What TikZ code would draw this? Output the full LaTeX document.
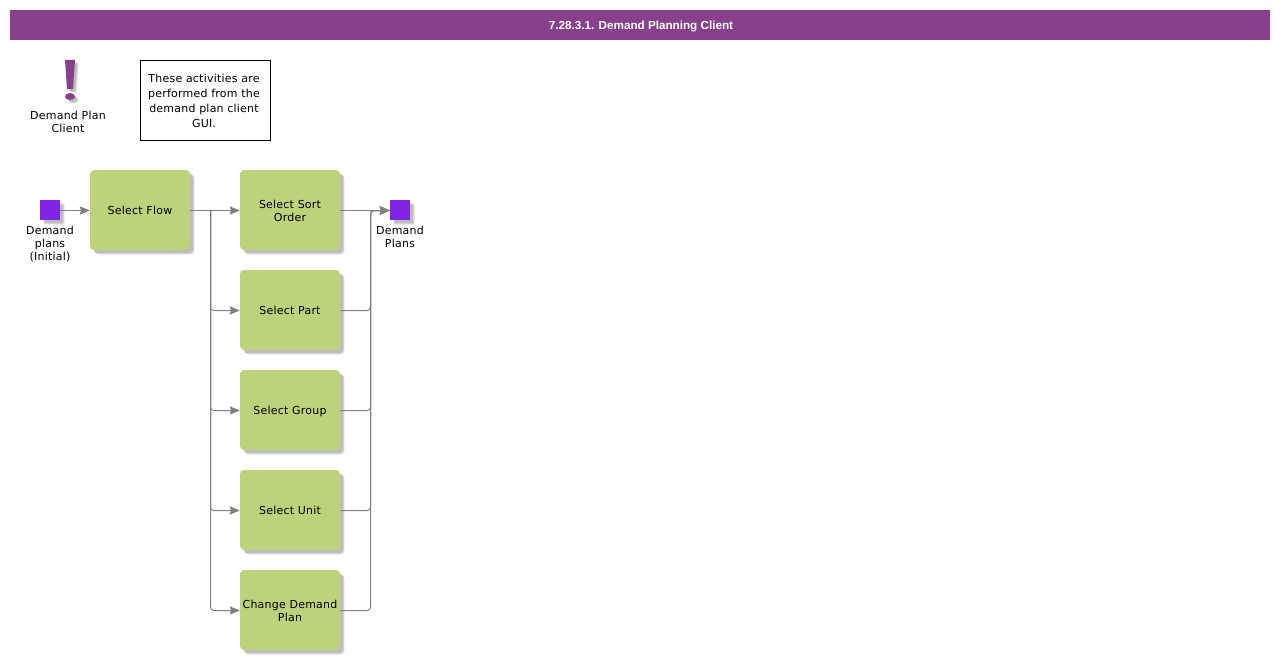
\documentclass[tikz,border=0pt]{standalone}
\usepackage{fontspec}
\setmainfont[LetterSpace=2]{DejaVu Sans}
\newfontfamily\titlefont{Liberation Sans}
\usetikzlibrary{arrows.meta,shadows,positioning}
\definecolor{barpurple}{HTML}{883F8C}
\definecolor{boxgreen}{HTML}{BDD37B}
\definecolor{squarepurple}{HTML}{8224E3}
\definecolor{linegray}{HTML}{808080}
\tikzset{
  softshadow/.style={
    general shadow={shadow xshift=3.4pt,shadow yshift=-3.4pt,fill=black,fill opacity=.07},
    general shadow={shadow xshift=3pt,shadow yshift=-3pt,fill=black,fill opacity=.1},
    general shadow={shadow xshift=2.4pt,shadow yshift=-2.4pt,fill=black,fill opacity=.1}},
  activity/.style={rectangle,rounded corners=3pt,fill=boxgreen,minimum width=75pt,minimum height=60pt,inner sep=0pt,align=center,font=\fontsize{8.25pt}{9.75pt}\selectfont,softshadow},
  flowsq/.style={rectangle,fill=squarepurple,minimum width=15pt,minimum height=15pt,inner sep=0pt,softshadow},
  caption/.style={inner sep=0pt,align=center,font=\fontsize{8.25pt}{9.75pt}\selectfont},
  notebox/.style={rectangle,draw=black,line width=.75pt,fill=white,minimum width=97.5pt,minimum height=60pt,inner sep=0pt},
  notetext/.style={inner sep=0pt,align=center,font=\fontsize{8.25pt}{11.25pt}\selectfont},
  titlebar/.style={rectangle,fill=barpurple,minimum width=945pt,minimum height=22.5pt,inner sep=0pt,text=white},
  titletext/.style={inner sep=0pt,text=white,font=\titlefont\bfseries\fontsize{8.76pt}{11pt}\selectfont},
  conn/.style={draw=linegray,line width=.75pt,rounded corners=2.5pt},
  arrowconn/.style={conn,-{Stealth[length=7.5pt,width=6.2pt,inset=1pt]}},
  dn/.style={yshift=-.375pt}
}
\begin{document}
\begin{tikzpicture}[x=.75pt,y=-.75pt]
\useasboundingbox (0,0) rectangle (1280,660);
\fill[white] (0,0) rectangle (1280,660);

\node[titlebar] (title) at (640,25) {};
\node[titletext] (titlelabel) at (641,26.3) {7.28.3.1. Demand Planning Client};

% exclamation mark
\foreach \s/\o in {2.2/.1,3/.1,3.8/.08}{
  \begin{scope}[shift={(\s,\s)},black,opacity=\o]
    \fill (65,60) -- (75,60) -- (73,89) -- (67,89) -- cycle;
    \fill (70,96.5) ellipse (5 and 3.5);
  \end{scope}
}
\fill[barpurple] (65,60) -- (75,60) -- (73,89) -- (67,89) -- cycle;
\fill[barpurple] (70,96.5) ellipse (5 and 3.5);
\node[caption] (clientlabel) at (68,121.5) {Demand Plan\\Client};

\node[notebox] (note) at (205.5,100.5) {};
\node[notetext] (notelabel) at (204,100.5) {These activities are\\performed from the\\demand plan client\\GUI.};

\node[flowsq] (inn) at (50,210) {};
\node[caption] (inlabel) at (50,244.3) {Demand\\plans\\(Initial)};
\node[flowsq] (outn) at (400,210) {};
\node[caption] (outlabel) at (400,236.5) {Demand\\Plans};

\node[activity] (flow) at (140,210) {Select Flow};
\node[activity] (sort) at (290,210) {};
\node[activity] (part) at (290,310) {Select Part};
\node[activity] (group) at (290,410) {};
\node[activity] (unit) at (290,510) {Select Unit};
\node[activity] (change) at (290,610) {};
\node[caption] (sortlabel) at (290,210.7) {Select Sort\\Order};
\node[caption] (grouplabel) at (290,411) {Select Group};
\node[caption] (changelabel) at (290,610.7) {Change Demand\\Plan};

\coordinate (branch) at (210.5,210.5);
\coordinate (merge) at (370.5,210.5);

\draw[arrowconn] ([dn]inn.east) -- ([dn]flow.west);
\draw[arrowconn] ([dn]flow.east) -- ([dn]sort.west);
\draw[arrowconn] (branch) |- ([dn]part.west);
\draw[arrowconn] (branch) |- ([dn]group.west);
\draw[arrowconn] (branch) |- ([dn]unit.west);
\draw[arrowconn] (branch) |- ([dn]change.west);
\draw[arrowconn] ([dn]sort.east) -- ([dn]outn.west);
\draw[arrowconn] ([dn]part.east) -| (merge) -- ([dn]outn.west);
\draw[arrowconn] ([dn]group.east) -| (merge) -- ([dn]outn.west);
\draw[arrowconn] ([dn]unit.east) -| (merge) -- ([dn]outn.west);
\draw[arrowconn] ([dn]change.east) -| (merge) -- ([dn]outn.west);
\end{tikzpicture}
\end{document}
